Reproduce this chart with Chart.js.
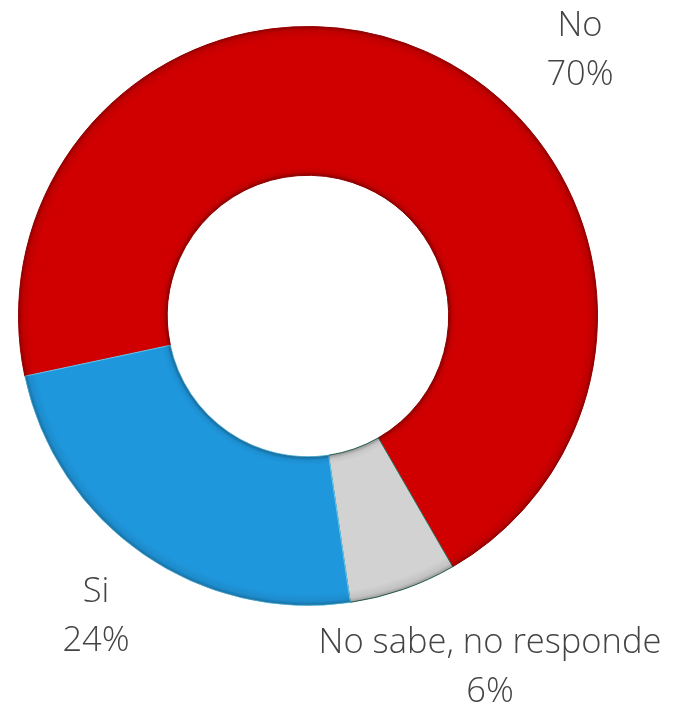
<!DOCTYPE html>
<html>
<head>
<meta charset="utf-8">
<script src="https://cdn.jsdelivr.net/npm/chart.js@4.4.1/dist/chart.umd.min.js"></script>
<style>
  html, body { margin: 0; padding: 0; background: #fff; }
  #wrap { width: 673px; height: 709px; position: relative; }
</style>
</head>
<body>
<div id="wrap"><canvas id="donut"></canvas></div>
<script>
const categories = ['No', 'No sabe, no responde', 'Si'];
const percents = [70, 6, 24];
const sliceColors = ['#d00000', '#d2d2d2', '#1f97dd'];
const edgeColors = ['#a80000', '#2f6e5e', '#63c7ef'];

// where each label block sits (centre x, baseline of first line)
const labelSpots = [
  { x: 580, y: 36 },
  { x: 490, y: 653 },
  { x: 96, y: 602 }
];

// soft rim shading so the ring looks slightly raised
const bevel = {
  id: 'bevel',
  afterDatasetsDraw(chart) {
    const arc = chart.getDatasetMeta(0).data[0];
    if (!arc) return;
    const { x, y, innerRadius, outerRadius } = arc.getProps(['x', 'y', 'innerRadius', 'outerRadius'], true);
    const ctx = chart.ctx;
    const g = ctx.createRadialGradient(x, y, innerRadius, x, y, outerRadius);
    const w = outerRadius - innerRadius;
    g.addColorStop(0, 'rgba(0,0,0,0.30)');
    g.addColorStop(4 / w, 'rgba(0,0,0,0.06)');
    g.addColorStop(9 / w, 'rgba(0,0,0,0)');
    g.addColorStop(1 - 12 / w, 'rgba(0,0,0,0)');
    g.addColorStop(1 - 4 / w, 'rgba(0,0,0,0.08)');
    g.addColorStop(1, 'rgba(0,0,0,0.28)');
    ctx.save();
    ctx.beginPath();
    ctx.arc(x, y, outerRadius, 0, Math.PI * 2);
    ctx.arc(x, y, innerRadius, 0, Math.PI * 2, true);
    ctx.fillStyle = g;
    ctx.fill();
    ctx.restore();
  }
};

// category name with its share underneath
const sliceLabels = {
  id: 'sliceLabels',
  afterDraw(chart) {
    const ctx = chart.ctx;
    const data = chart.data.datasets[0].data;
    ctx.save();
    ctx.font = '300 34.5px "Open Sans"';
    ctx.fillStyle = '#444444';
    ctx.textAlign = 'center';
    ctx.textBaseline = 'alphabetic';
    chart.data.labels.forEach((name, i) => {
      const p = labelSpots[i];
      ctx.fillText(name, p.x, p.y);
      ctx.fillText(data[i] + '%', p.x, p.y + 49);
    });
    ctx.restore();
  }
};

new Chart(document.getElementById('donut'), {
  type: 'doughnut',
  data: {
    labels: categories,
    datasets: [{
      data: percents,
      backgroundColor: sliceColors,
      borderColor: edgeColors,
      borderWidth: 1
    }]
  },
  options: {
    responsive: true,
    maintainAspectRatio: false,
    animation: false,
    rotation: -102,
    cutout: '48.6%',
    layout: { padding: { left: 18, right: 75, top: 26, bottom: 103 } },
    plugins: {
      legend: { display: false },
      tooltip: { enabled: false }
    }
  },
  plugins: [bevel, sliceLabels]
});
</script>
</body>
</html>
